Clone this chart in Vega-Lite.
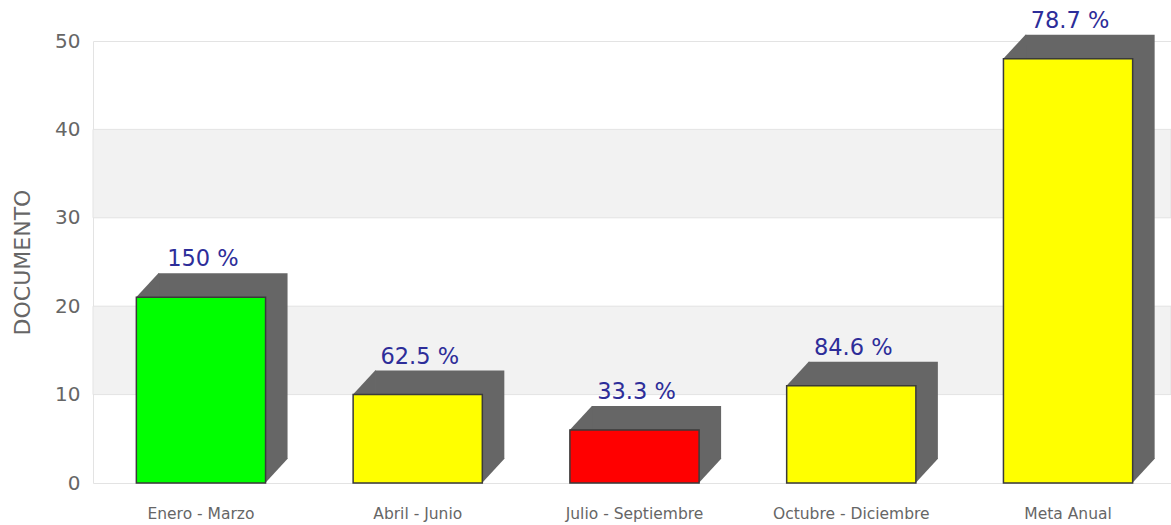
{
  "$schema": "https://vega.github.io/schema/vega-lite/v6.json",
  "autosize": {"type": "none"},
  "padding": {"left": 93, "top": 41, "right": 0, "bottom": 42},
  "width": 1078,
  "height": 442,
  "background": "white",
  "config": {
    "font": "DejaVu Sans",
    "view": {"stroke": "#e3e3e3", "strokeWidth": 1}
  },
  "datasets": {
    "bars": [
      {"periodo": "Enero - Marzo", "documentos": 21, "porcentaje": "150 %", "nivel": "alto"},
      {"periodo": "Abril - Junio", "documentos": 10, "porcentaje": "62.5 %", "nivel": "medio"},
      {"periodo": "Julio - Septiembre", "documentos": 6, "porcentaje": "33.3 %", "nivel": "bajo"},
      {"periodo": "Octubre - Diciembre", "documentos": 11, "porcentaje": "84.6 %", "nivel": "medio"},
      {"periodo": "Meta Anual", "documentos": 48, "porcentaje": "78.7 %", "nivel": "medio"}
    ],
    "bands": [
      {"desde": 10, "hasta": 20},
      {"desde": 30, "hasta": 40}
    ]
  },
  "layer": [
    {
      "data": {"name": "bands"},
      "mark": {"type": "rect", "fill": "#f2f2f2", "stroke": "#e3e3e3", "strokeWidth": 1},
      "encoding": {
        "x": {"value": 0},
        "x2": {"value": "width"},
        "y": {
          "field": "desde", "type": "quantitative", "scale": {"domain": [0, 50]},
          "axis": {
            "title": "DOCUMENTO", "titleFontSize": 22, "titleFontWeight": "normal", "titleColor": "#666666", "titlePadding": 20,
            "values": [0, 10, 20, 30, 40, 50], "ticks": false, "domain": false, "grid": false,
            "labelFontSize": 20, "labelColor": "#666666", "labelPadding": 13
          }
        },
        "y2": {"field": "hasta"}
      }
    },
    {
      "data": {"name": "bars"},
      "layer": [
        {
          "mark": {"type": "bar", "color": "#666666", "xOffset": 22, "x2Offset": 22, "yOffset": -24, "y2Offset": -24},
          "encoding": {
            "x": {
              "field": "periodo", "type": "nominal", "sort": null,
              "scale": {"range": [0, 1083], "paddingInner": 0.404, "paddingOuter": 0.2},
              "axis": {
                "title": null, "labelAngle": 0, "ticks": false, "domain": false,
                "labelFontSize": 15.5, "labelColor": "#666666", "labelPadding": 23, "labelBaseline": "top", "grid": false
              }
            },
            "y": {"field": "documentos", "type": "quantitative"}
          }
        },
        {
          "mark": {"type": "point", "filled": true, "color": "#666666", "opacity": 1, "size": 2304, "strokeWidth": 0,
            "shape": "M -2.70 0 L -1.775 -1 L -1.74 -1 L -1.74 0 Z"},
          "encoding": {
            "x": {"field": "periodo", "type": "nominal", "sort": null},
            "y": {"field": "documentos", "type": "quantitative"}
          }
        },
        {
          "mark": {"type": "point", "filled": true, "color": "#666666", "opacity": 1, "size": 2304, "strokeWidth": 0,
            "shape": "M 2.66 0.02 L 2.66 -1.02 L 3.62 -1.02 Z"},
          "encoding": {
            "x": {"field": "periodo", "type": "nominal", "sort": null},
            "y": {"datum": 0, "type": "quantitative"}
          }
        },
        {
          "mark": {"type": "bar", "stroke": "#3a3a3a", "strokeWidth": 1.5, "opacity": 1},
          "encoding": {
            "x": {"field": "periodo", "type": "nominal", "sort": null},
            "y": {"field": "documentos", "type": "quantitative"},
            "color": {
              "field": "nivel", "type": "nominal", "legend": null,
              "scale": {"domain": ["alto", "medio", "bajo"], "range": ["#00ff00", "#ffff00", "#ff0000"]}
            }
          }
        },
        {
          "mark": {"type": "text", "color": "#2d2d99", "fontSize": 22.5, "baseline": "bottom", "dx": 2, "dy": -26},
          "encoding": {
            "x": {"field": "periodo", "type": "nominal", "sort": null},
            "y": {"field": "documentos", "type": "quantitative"},
            "text": {"field": "porcentaje"}
          }
        }
      ]
    }
  ],
  "resolve": {"scale": {"y": "shared"}}
}
